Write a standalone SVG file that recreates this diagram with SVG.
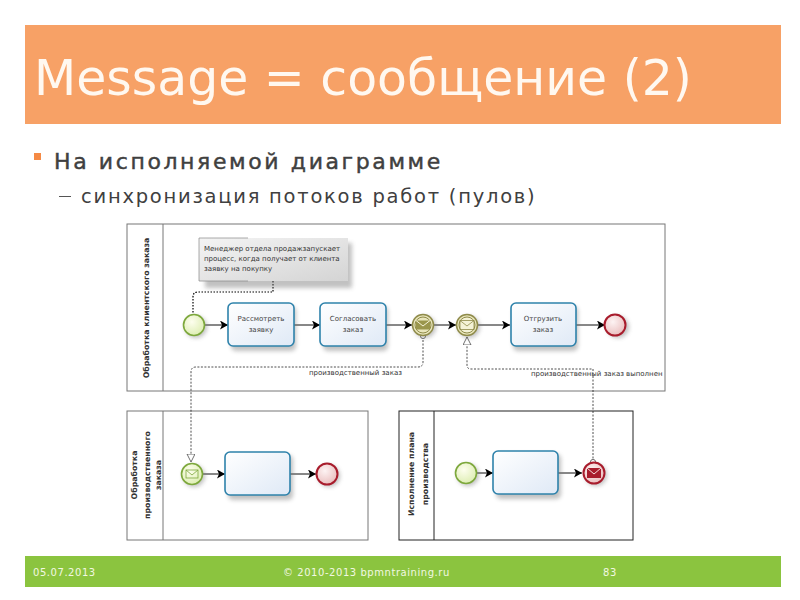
<svg xmlns="http://www.w3.org/2000/svg" width="800" height="600" viewBox="0 0 800 600">
<defs>
<linearGradient id="task" x1="0" y1="0" x2="1" y2="1"><stop offset="0" stop-color="#ffffff"/><stop offset="1" stop-color="#dfe9f6"/></linearGradient>
<radialGradient id="gs" cx="0.4" cy="0.35" r="0.7"><stop offset="0" stop-color="#fdfeee"/><stop offset="1" stop-color="#dcedb0"/></radialGradient>
<radialGradient id="re" cx="0.4" cy="0.35" r="0.7"><stop offset="0" stop-color="#fdf3f3"/><stop offset="1" stop-color="#e9bcbc"/></radialGradient>
<linearGradient id="note" x1="0" y1="0" x2="1" y2="1"><stop offset="0" stop-color="#f4f4f4"/><stop offset="1" stop-color="#d4d4d4"/></linearGradient>
<filter id="sh" x="-30%" y="-30%" width="170%" height="170%"><feGaussianBlur stdDeviation="2"/></filter>
<marker id="ah" markerUnits="userSpaceOnUse" markerWidth="10" markerHeight="10" refX="8" refY="4.500" orient="auto"><path d="M0 0L8 4.500L0 9L2 4.500Z" fill="#000"/></marker>
<marker id="oh" markerUnits="userSpaceOnUse" markerWidth="10" markerHeight="10" refX="8" refY="4" orient="auto"><path d="M0 0L8 4L0 8Z" fill="#fff" stroke="#333" stroke-width=".7"/></marker>
</defs>
<style>
text{font-family:"DejaVu Sans",sans-serif}
.pool{fill:#fff;stroke:#777;stroke-width:1}
.pl{font-size:7.800px;font-weight:bold;fill:#333;text-anchor:middle}
.task{fill:url(#task);stroke:#2e82ab;stroke-width:1.600}
.tt{font-size:7px;fill:#444;text-anchor:middle}
.shadow{fill:#777;opacity:.45;filter:url(#sh)}
.flow{fill:none;stroke:#111;stroke-width:1;marker-end:url(#ah)}
.msg{fill:none;stroke:#222;stroke-width:.8;stroke-dasharray:2 1.500}
.start{fill:url(#gs);stroke:#7da83c;stroke-width:1.600}
.end{fill:url(#re);stroke:#a81c2c;stroke-width:2}
.im{fill:#e9e6bc;stroke:#8f8b4a;stroke-width:1.500}
.lab{font-size:7px;fill:#333}
.env{fill:none;stroke:#8f8b4a;stroke-width:.8}
.foot{font-size:10px;fill:#f2f8e2;letter-spacing:.55px}
</style>
<rect width="800" height="600" fill="#fff"/>
<rect x="25" y="25" width="756" height="99" fill="#f7a166"/>
<text x="34" y="95" font-size="48.900" fill="#fff8f0">Message = сообщение (2)</text>
<rect x="34" y="153" width="7" height="7" fill="#f58a45"/>
<text x="54" y="169" font-size="22" letter-spacing="2.600" fill="#404040" stroke="#404040" stroke-width=".45">На исполняемой диаграмме</text>
<rect x="59" y="196" width="12" height="1" fill="#555"/>
<text x="81" y="203" font-size="19.500" letter-spacing="1.750" fill="#404040">синхронизация потоков работ (пулов)</text>

<g id="pool-main"><rect class="pool" x="127" y="224" width="538" height="167"/><line x1="163" y1="224" x2="163" y2="391" stroke="#777"/>
<text class="pl" transform="translate(149 308) rotate(-90)">Обработка  клиентского заказа</text></g>
<g id="pool-prod"><rect class="pool" x="127" y="411" width="241" height="129"/><line x1="163" y1="411" x2="163" y2="540" stroke="#777"/>
<text class="pl" transform="translate(137 475) rotate(-90)">Обработка</text><text class="pl" transform="translate(150 475) rotate(-90)">производственного</text><text class="pl" transform="translate(161 475) rotate(-90)">заказа</text></g>
<g id="pool-plan"><rect x="399" y="411" width="234" height="129" fill="#fff" stroke="#222"/><line x1="434" y1="411" x2="434" y2="540" stroke="#222"/>
<text class="pl" transform="translate(414 474) rotate(-90)">Исполнение плана</text><text class="pl" transform="translate(428 474) rotate(-90)">производства</text></g>

<g id="connectors">
<path class="msg" style="stroke:#000;stroke-width:1.200;stroke-dasharray:1.500 1.500" d="M273 281V292H198Q193 292 193 297V314"/>
<path class="flow" d="M205 325H228"/><path class="flow" d="M294 325H320"/><path class="flow" d="M386 325H412"/><path class="flow" d="M434 325H456"/><path class="flow" d="M478 325H510"/><path class="flow" d="M576 325H605"/>
<path class="flow" d="M202 474H225"/><path class="flow" d="M290 474H316"/><path class="flow" d="M477 473H493"/><path class="flow" d="M558 473H582"/>
<path class="msg" d="M423 340V362Q423 367 418 367H196Q191 367 191 372V462" marker-end="url(#oh)"/>
<path class="msg" d="M593 462V369H471Q467 369 467 365V337" marker-end="url(#oh)"/>
<circle cx="423" cy="336" r="2.600" fill="#fff" stroke="#333" stroke-width=".7"/>
<circle cx="593" cy="462" r="2.600" fill="#fff" stroke="#333" stroke-width=".7"/>
</g>
<text class="lab" x="309" y="375">производственный заказ</text>
<text class="lab" x="531" y="376">производственный заказ выполнен</text>

<g id="note-1"><rect class="shadow" x="205" y="243" width="147" height="45"/><rect x="199" y="238" width="149" height="43" fill="url(#note)"/><path d="M248 238H199V281H248" fill="none" stroke="#888" stroke-width=".7"/>
<text class="lab" x="204" y="251">Менеджер отдела продажзапускает</text><text class="lab" x="204" y="261">процесс, когда получает от клиента</text><text class="lab" x="204" y="271">заявку на покупку</text></g>

<g id="task-review"><rect class="shadow" x="231" y="306" width="65" height="45" rx="5"/><rect class="task" x="228" y="303" width="66" height="43" rx="5"/><text class="tt" x="261" y="321">Рассмотреть</text><text class="tt" x="261" y="332">заявку</text></g>
<g id="task-approve"><rect class="shadow" x="323" y="306" width="65" height="45" rx="5"/><rect class="task" x="320" y="303" width="66" height="43" rx="5"/><text class="tt" x="353" y="321">Согласовать</text><text class="tt" x="353" y="332">заказ</text></g>
<g id="task-ship"><rect class="shadow" x="513" y="306" width="65" height="45" rx="5"/><rect class="task" x="511" y="303" width="65" height="43" rx="5"/><text class="tt" x="543" y="321">Отгрузить</text><text class="tt" x="543" y="332">заказ</text></g>
<g id="task-prod"><rect class="shadow" x="228" y="455" width="65" height="45" rx="5"/><rect class="task" x="225" y="452" width="65" height="43" rx="5"/></g>
<g id="task-plan"><rect class="shadow" x="496" y="454" width="65" height="45" rx="5"/><rect class="task" x="493" y="451" width="65" height="43" rx="5"/></g>

<g id="start-main"><circle class="shadow" cx="196" cy="327" r="11"/><circle class="start" cx="194" cy="325" r="10.500"/></g>
<g id="end-main"><circle class="shadow" cx="618" cy="327" r="11"/><circle class="end" cx="615" cy="325" r="10.500"/></g>
<g id="send-msg"><circle class="shadow" cx="425" cy="327" r="11"/><circle class="im" cx="423" cy="325" r="10.500"/><circle cx="423" cy="325" r="8" fill="#e9e6bc" stroke="#8f8b4a"/><rect x="416" y="320.500" width="14" height="9" fill="#9a964c"/><path d="M416 320.500L423 326L430 320.500" fill="none" stroke="#f5f3d8"/></g>
<g id="recv-msg"><circle class="shadow" cx="469" cy="327" r="11"/><circle class="im" cx="467" cy="325" r="10.500"/><circle cx="467" cy="325" r="8" fill="#f4f2d6" stroke="#8f8b4a"/><rect class="env" x="460" y="320.500" width="14" height="9"/><path class="env" d="M460 320.500L467 326L474 320.500"/></g>
<g id="start-prod"><circle class="shadow" cx="194" cy="476" r="11"/><circle class="start" cx="192" cy="474" r="10.500"/><rect x="186" y="470" width="12" height="8" fill="none" stroke="#7da83c" stroke-width=".8"/><path d="M186 470L192 475L198 470" fill="none" stroke="#7da83c" stroke-width=".8"/></g>
<g id="end-prod"><circle class="shadow" cx="329" cy="476" r="11"/><circle class="end" cx="327" cy="474" r="10.500"/></g>
<g id="start-plan"><circle class="shadow" cx="468" cy="475" r="11"/><circle class="start" cx="466" cy="473" r="10.500"/></g>
<g id="end-plan"><circle class="shadow" cx="596" cy="475" r="11"/><circle class="end" cx="594" cy="473" r="10.500"/><rect x="587" y="468" width="14" height="10" fill="#a81c2c"/><path d="M587 468L594 474L601 468" fill="none" stroke="#f5dcdc"/></g>

<rect x="25" y="556" width="756" height="31" fill="#8bc43f"/>
<text class="foot" x="33" y="576">05.07.2013</text>
<text class="foot" x="283" y="576">© 2010-2013 bpmntraining.ru</text>
<text class="foot" x="603" y="576">83</text>
</svg>
